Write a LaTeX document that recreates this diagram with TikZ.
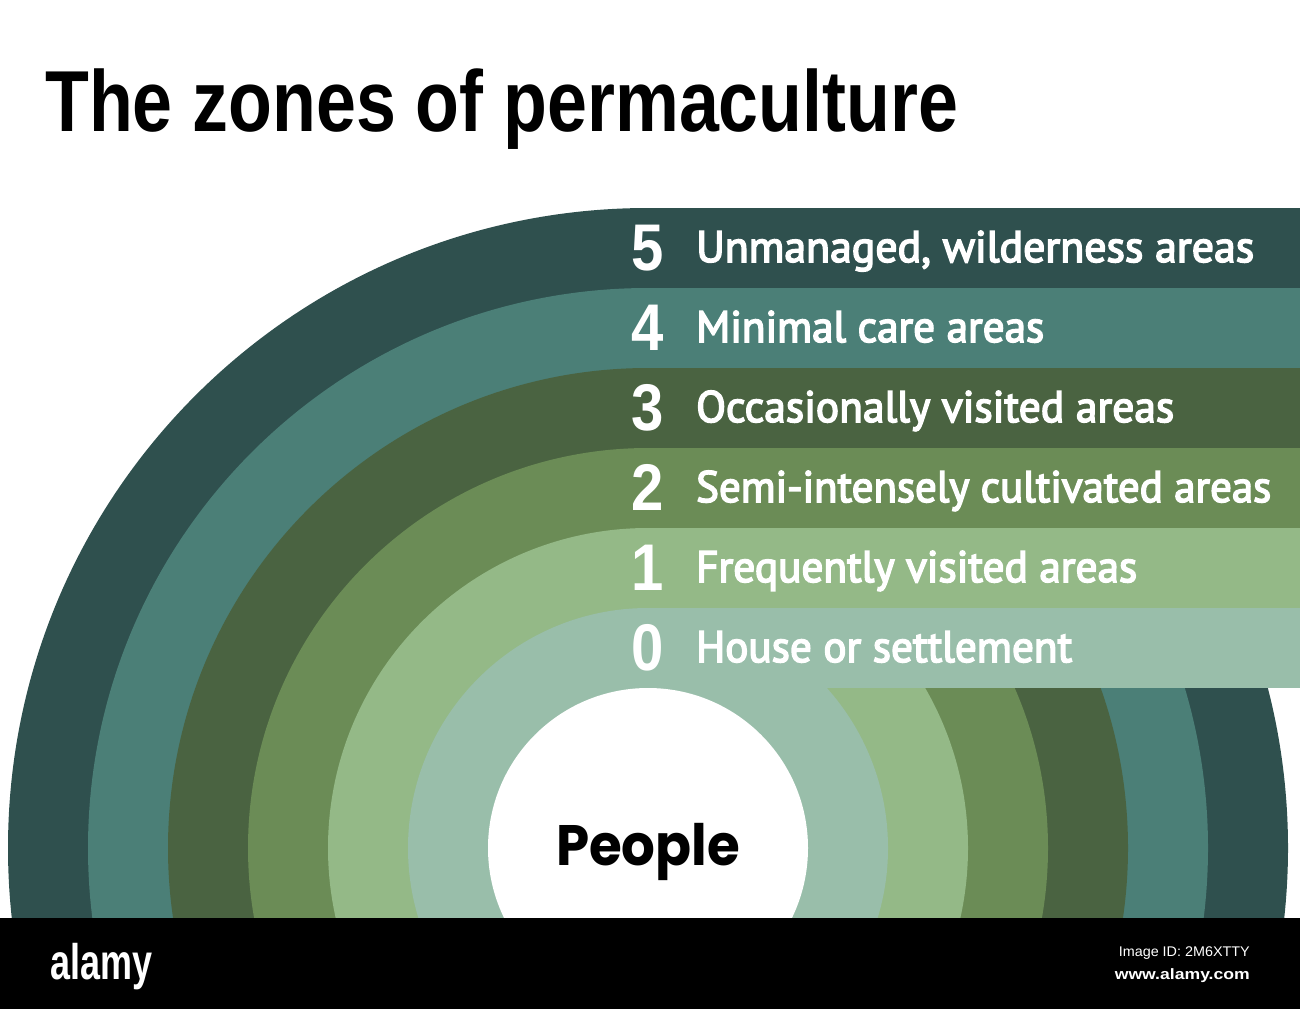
\documentclass[tikz,border=0pt]{standalone}
\usepackage{fontspec}
\usepackage{graphicx}
\newfontfamily\titlefont{Liberation Sans}
\newfontfamily\labfont[FakeBold=3.5]{PT Sans}
\newfontfamily\pplfont{Poppins}
\newcommand\fitw[2]{\resizebox{#1}{\height}{#2}}
\definecolor{z5}{HTML}{2F504E}
\definecolor{z4}{HTML}{4B7F77}
\definecolor{z3}{HTML}{4A6341}
\definecolor{z2}{HTML}{6B8C56}
\definecolor{z1}{HTML}{94B987}
\definecolor{z0}{HTML}{99BEAA}
\begin{document}
\begin{tikzpicture}[x=1pt,y=-1pt,
  dig/.style={anchor=base, inner sep=0pt, text=white, font=\titlefont\bfseries\fontsize{66}{70}\selectfont},
  lab/.style={anchor=base west, inner sep=0pt, text=white, font=\labfont\fontsize{44}{48}\selectfont}]
\useasboundingbox (0,0) rectangle (1300,1009);
\fill[white] (0,0) rectangle (1300,1009);
\begin{scope}
  \clip (0,0) rectangle (1300,918);
  \foreach \k/\c in {5/z5,4/z4,3/z3,2/z2,1/z1,0/z0}{
    \pgfmathsetmacro\r{240+80*\k}
    \fill[\c] (648,848) circle[radius=\r pt];
    \fill[\c] (648,{848-\r}) rectangle (1300,{928-\r});
  }
  \fill[white] (648,848) circle[radius=160pt];
\end{scope}
\node[anchor=base west, inner sep=0pt, font=\titlefont\bfseries\fontsize{86.6}{90}\selectfont] (title) at (45,131) {\fitw{913pt}{The zones of permaculture}};
% digits
\node[dig] (d5) at (648,270) {\scalebox{0.88}[1]{5}};
\node[dig] (d4) at (648,350) {\scalebox{0.88}[1]{4}};
\node[dig] (d3) at (648,430) {\scalebox{0.88}[1]{3}};
\node[dig] (d2) at (648,510) {\scalebox{0.88}[1]{2}};
\node[dig] (d1) at (648,590) {\scalebox{0.88}[1]{1}};
\node[dig] (d0) at (648,670) {\scalebox{0.88}[1]{0}};
% labels
\node[lab] (t5) at (696,262) {\fitw{558pt}{Unmanaged, wilderness areas}};
\node[lab] (t4) at (696,342) {\fitw{348pt}{Minimal care areas}};
\node[lab] (t3) at (696,422) {\fitw{478pt}{Occasionally visited areas}};
\node[lab] (t2) at (696,502) {\fitw{575pt}{Semi-intensely cultivated areas}};
\node[lab] (t1) at (696,582) {\fitw{441pt}{Frequently visited areas}};
\node[lab] (t0) at (696,662) {\fitw{376pt}{House or settlement}};
% centre
\node[anchor=base, inner sep=0pt, font=\pplfont\bfseries\fontsize{57}{60}\selectfont] (people) at (648,865) {\fitw{184pt}{People}};
% bottom bar
\fill[black] (0,918) rectangle (1300,1009);
\node[anchor=base west, inner sep=0pt, text=white, font=\titlefont\bfseries\fontsize{50}{52}\selectfont] (logo) at (50,979) {\fitw{102pt}{alamy}};
\node[anchor=base east, inner sep=0pt, text=white, font=\titlefont\fontsize{14}{16}\selectfont] (imgid) at (1250,956) {\fitw{131pt}{Image ID: 2M6XTTY}};
\node[anchor=base east, inner sep=0pt, text=white, font=\titlefont\bfseries\fontsize{15}{17}\selectfont] (www) at (1250,979) {\fitw{135pt}{www.alamy.com}};
\end{tikzpicture}
\end{document}
